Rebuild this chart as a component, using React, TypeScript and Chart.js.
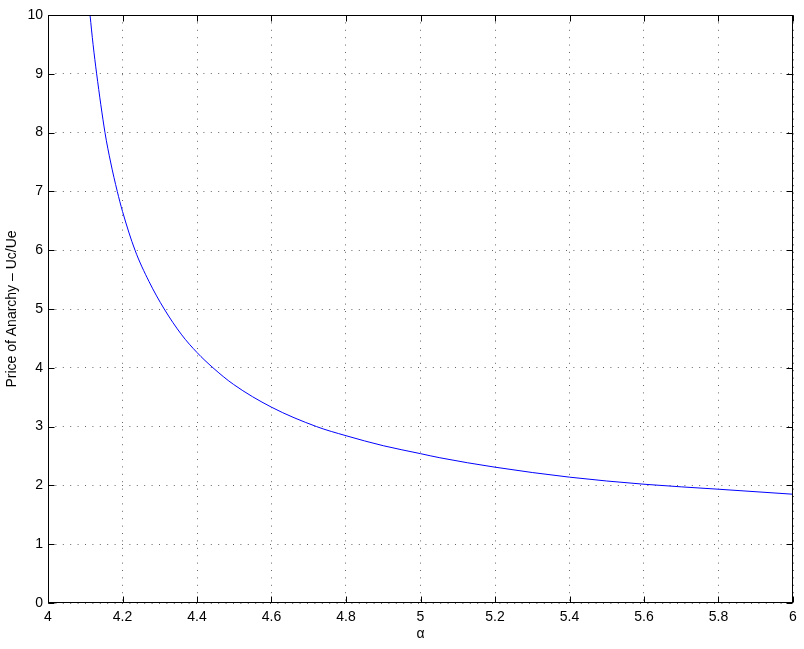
import React, { useEffect, useRef } from "react";
import { Chart, registerables } from "chart.js";

Chart.register(...registerables);

const alphaValues = [4.1128, 4.121, 4.1306, 4.153, 4.168, 4.186, 4.2, 4.2336, 4.271, 4.312, 4.359, 4.4, 4.443, 4.4975, 4.6, 4.721, 4.8, 4.9, 5.0, 5.052, 5.2, 5.4, 5.6, 5.8, 6.0];
const poaValues = [10, 9.5, 9, 8, 7.5, 7, 6.66, 6, 5.47, 5, 4.56, 4.26, 4, 3.72, 3.33, 3, 2.845, 2.675, 2.54, 2.47, 2.31, 2.14, 2.02, 1.935, 1.85];

const xTitle = "α";
const yTitle = "Price of Anarchy – Uc/Ue";

const FONT = "'Liberation Sans', Arial, Helvetica, sans-serif";

const boxPlugin = {
  id: "matlabBox",
  afterDraw(chart: any) {
    const { ctx, chartArea } = chart;
    const { left, right, top, bottom } = chartArea;
    const xs = chart.scales.x;
    const ys = chart.scales.y;
    const L = Math.round(left) + 0.5;
    const R = Math.round(right) - 0.5;
    const T = Math.round(top) + 0.5;
    const B = Math.round(bottom) - 0.5;
    ctx.save();
    ctx.strokeStyle = "#000";
    ctx.lineWidth = 1;
    ctx.beginPath();
    const tl = 6;
    xs.ticks.forEach((t: any) => {
      const px = Math.round(xs.getPixelForValue(t.value)) + 0.5;
      ctx.moveTo(px, B);
      ctx.lineTo(px, B - tl);
      ctx.moveTo(px, T);
      ctx.lineTo(px, T + tl);
    });
    ys.ticks.forEach((t: any) => {
      const py = Math.round(ys.getPixelForValue(t.value)) + 0.5;
      ctx.moveTo(L, py);
      ctx.lineTo(L + tl, py);
      ctx.moveTo(R, py);
      ctx.lineTo(R - tl, py);
    });
    ctx.stroke();
    ctx.strokeRect(L, T, R - L, B - T);
    ctx.restore();
  },
};

export default function App() {
  const ref = useRef<HTMLCanvasElement | null>(null);
  useEffect(() => {
    if (!ref.current) return;
    const data = alphaValues.map((a, i) => ({ x: a, y: poaValues[i] }));
    const chart = new Chart(ref.current, {
      type: "line",
      data: {
        datasets: [
          {
            data,
            borderColor: "#0000ff",
            borderWidth: 1,
            pointRadius: 0,
            fill: false,
            cubicInterpolationMode: "monotone",
          },
        ],
      },
      options: {
        animation: false,
        responsive: false,
        maintainAspectRatio: false,
        layout: { padding: { left: 0, top: 15, right: 11, bottom: 0 } },
        plugins: { legend: { display: false }, tooltip: { enabled: false } },
        scales: {
          x: {
            type: "linear",
            min: 4,
            max: 6,
            afterFit: (s: any) => {
              s.height = 46;
            },
            ticks: {
              stepSize: 0.2,
              color: "#000",
              padding: 6,
              maxRotation: 0,
              font: { family: FONT, size: 14 },
              callback: (v: any) => String(Number(Number(v).toFixed(1))),
            },
            grid: {
              color: "rgba(0,0,0,0.6)",
              lineWidth: 1,
              drawTicks: false,
            },
            border: { display: false, dash: [1, 6.4] },
            title: {
              display: true,
              text: xTitle,
              color: "#000",
              font: { family: FONT, size: 14 },
              padding: { top: 0, bottom: 6 },
            },
          },
          y: {
            type: "linear",
            min: 0,
            max: 10,
            afterFit: (s: any) => {
              s.width = 48;
            },
            ticks: {
              stepSize: 1,
              color: "#000",
              padding: 5,
              font: { family: FONT, size: 14 },
            },
            grid: {
              color: "rgba(0,0,0,0.6)",
              lineWidth: 1,
              drawTicks: false,
            },
            border: { display: false, dash: [1, 6.4] },
            title: {
              display: true,
              text: yTitle,
              color: "#000",
              font: { family: FONT, size: 14 },
              padding: { top: 4, bottom: 0 },
            },
          },
        },
      },
      plugins: [boxPlugin],
    });
    return () => chart.destroy();
  }, []);
  return (
    <div style={{ position: "fixed", left: 0, top: 0, width: 804, height: 649, background: "#fff" }}>
      <canvas ref={ref} width={804} height={649} style={{ width: 804, height: 649 }} />
    </div>
  );
}
